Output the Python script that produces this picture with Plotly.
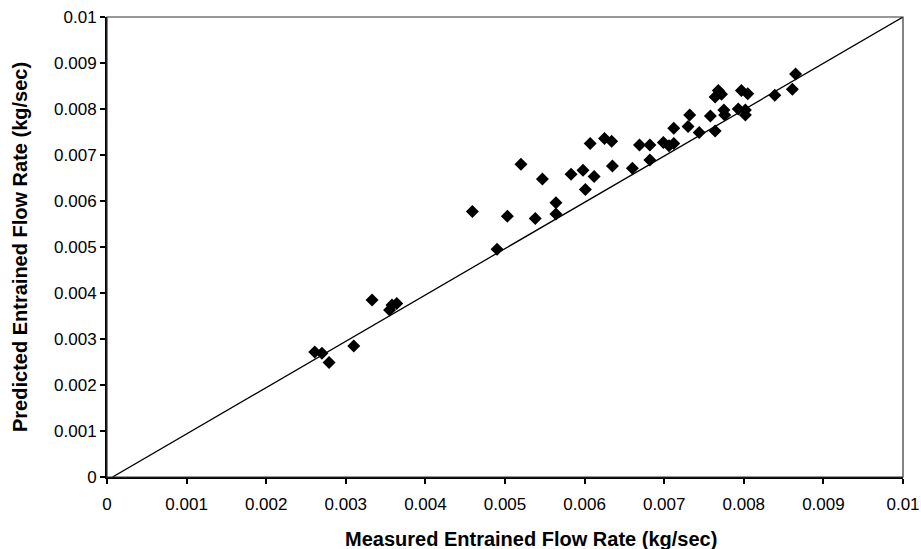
import plotly.graph_objects as go

measured = [0.00261, 0.00270, 0.00279, 0.00310, 0.00333, 0.00355, 0.00358, 0.00364,
            0.00459, 0.00490, 0.00503, 0.00520, 0.00538, 0.00547, 0.00564, 0.00564,
            0.00583, 0.00598, 0.00601, 0.00607, 0.00612, 0.00625, 0.00634, 0.00635,
            0.00660, 0.00669, 0.00682, 0.00682, 0.00699, 0.00706, 0.00712, 0.00712,
            0.00730, 0.00732, 0.00744, 0.00758, 0.00764, 0.00764, 0.00768, 0.00772,
            0.00775, 0.00776, 0.00793, 0.00797, 0.00802, 0.00802, 0.00805, 0.00839,
            0.00861, 0.00865]
predicted = [0.00272, 0.00269, 0.00249, 0.00285, 0.00385, 0.00363, 0.00374, 0.00377,
             0.00577, 0.00495, 0.00567, 0.00680, 0.00562, 0.00648, 0.00596, 0.00572,
             0.00658, 0.00667, 0.00625, 0.00725, 0.00653, 0.00736, 0.00730, 0.00676,
             0.00671, 0.00722, 0.00722, 0.00689, 0.00727, 0.00720, 0.00725, 0.00758,
             0.00762, 0.00787, 0.00749, 0.00785, 0.00752, 0.00826, 0.00840, 0.00832,
             0.00798, 0.00787, 0.00800, 0.00840, 0.00798, 0.00787, 0.00833, 0.00830,
             0.00843, 0.00876]
ideal_x = [0.00007, 0.01]
ideal_y = [0.0, 0.01]
tick_vals = [0, 0.001, 0.002, 0.003, 0.004, 0.005, 0.006, 0.007, 0.008, 0.009, 0.01]
tick_text = ["0", "0.001", "0.002", "0.003", "0.004", "0.005", "0.006", "0.007", "0.008", "0.009", "0.01"]
x_title = "Measured Entrained Flow Rate (kg/sec)"
y_title = "Predicted Entrained Flow Rate (kg/sec)"

fig = go.Figure()
fig.add_trace(go.Scatter(x=ideal_x, y=ideal_y, mode="lines",
                         line=dict(color="black", width=1.3), showlegend=False,
                         hoverinfo="skip"))
fig.add_trace(go.Scatter(x=measured, y=predicted, mode="markers",
                         marker=dict(symbol="diamond", size=10, color="black",
                                     line=dict(width=0)),
                         showlegend=False))

font = "Liberation Sans, Arial, sans-serif"
axis_common = dict(range=[0, 0.01], tickvals=tick_vals, ticktext=tick_text,
                   showgrid=False, zeroline=False, showline=True, linecolor="black",
                   linewidth=2, ticks="outside", ticklen=5, tickwidth=1.5,
                   tickcolor="black", automargin=False,
                   tickfont=dict(family=font, size=17, color="black"))

fig.update_layout(
    width=921, height=549,
    margin=dict(l=107, r=18, t=17, b=72),
    paper_bgcolor="white", plot_bgcolor="white",
    xaxis=dict(**axis_common, ticklabelstandoff=6),
    yaxis=dict(**axis_common),
    shapes=[dict(type="rect", xref="paper", yref="paper", x0=0, y0=0, x1=1, y1=1,
                 line=dict(color="#333333", width=1.2))],
    annotations=[
        dict(text="<b>" + x_title + "</b>", xref="paper", yref="paper",
             x=0.5, y=0, xshift=26, yshift=-62, xanchor="center", yanchor="middle",
             showarrow=False, font=dict(family=font, size=20, color="black")),
        dict(text="<b>" + y_title + "</b>", xref="paper", yref="paper",
             x=0, y=0.5, xshift=-87, xanchor="center", yanchor="middle", textangle=-90,
             showarrow=False, font=dict(family=font, size=20, color="black")),
    ],
)

fig.write_html("out.html")
